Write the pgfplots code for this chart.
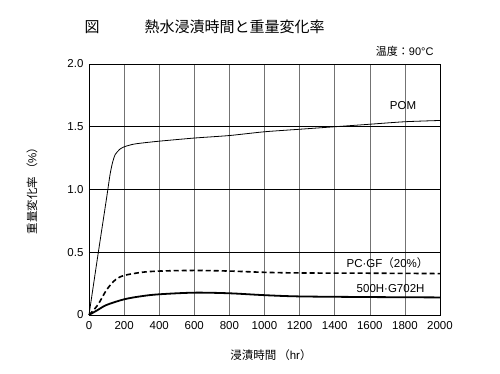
\documentclass[border=0pt]{standalone}
\usepackage{fontspec}
\setmainfont{Liberation Sans}
\newfontfamily\jp{Noto Sans CJK JP}
\usepackage{pgfplots}
\pgfplotsset{compat=1.18}
\begin{document}
\begin{tikzpicture}
\useasboundingbox (-89pt,-59pt) rectangle (411pt,315pt);
\begin{axis}[
  at={(0pt,0pt)}, anchor=origin,
  scale only axis, width=351pt, height=251pt,
  xmin=0, xmax=2000, ymin=0, ymax=2.0,
  xtick={0,200,...,2000},
  ytick={0,0.5,1.0,1.5,2.0},
  yticklabels={0,0.5,1.0,1.5,2.0},
  /pgf/number format/assume math mode=true,
  /pgf/number format/1000 sep={},
  tick label style={font=\fontsize{11.5}{12}\selectfont},
  major tick length=0pt,
  xticklabel style={yshift=-3pt},
  yticklabel style={xshift=-2pt},
  xmajorgrids, ymajorgrids,
  x grid style={black!55, line width=0.6pt},
  y grid style={black, line width=0.6pt},
  axis line style={black, line width=0.7pt},
  clip=false,
]
\addplot[black, line width=0.8pt, smooth, tension=0.4] coordinates {
(0,0) (50,0.47) (100,0.93) (120,1.12) (135,1.22) (150,1.28) (175,1.32) (200,1.34) (250,1.36) (300,1.37) (400,1.385) (600,1.41) (800,1.43) (1000,1.46) (1200,1.48) (1400,1.50) (1600,1.52) (1800,1.54) (2000,1.55)};
\addplot[black, line width=1.6pt, dash pattern=on 5pt off 3pt, smooth, tension=0.5] coordinates {
(0,0) (50,0.08) (100,0.2) (150,0.28) (200,0.315) (300,0.34) (400,0.35) (600,0.355) (800,0.35) (1000,0.34) (1200,0.335) (1600,0.333) (2000,0.33)};
\addplot[black, line width=1.8pt, smooth, tension=0.5] coordinates {
(0,0) (50,0.04) (100,0.08) (200,0.125) (300,0.15) (400,0.165) (600,0.178) (800,0.173) (1000,0.158) (1200,0.148) (1600,0.143) (2000,0.14)};
\end{axis}
\node[font=\fontsize{11.5}{12}\selectfont] at (314pt,209pt) {POM};
\node[anchor=east, font=\fontsize{11.5}{12}\selectfont] at (343pt,52pt) {PC·GF{\jp（}20\%{\jp）}};
\node[anchor=east, font=\fontsize{11.5}{12}\selectfont] at (339pt,26pt) {500H·G702H};
\node[font=\jp\fontsize{15}{16}\selectfont] at (3pt,288pt) {図};
\node[anchor=west, font=\jp\fontsize{15}{16}\selectfont] at (52pt,288pt) {熱水浸漬時間と重量変化率};
\node[anchor=east, font=\fontsize{11}{12}\selectfont] at (348pt,264pt) {{\jp 温度：}90°C};
\node[rotate=90, font=\fontsize{11.5}{12}\selectfont] at (-57pt,127pt) {{\jp 重量変化率}\,{\jp （}\%{\jp ）}};
\node[font=\fontsize{11.5}{12}\selectfont] at (182pt,-40pt) {{\jp 浸漬時間}\,{\jp （}hr{\jp ）}};
\end{tikzpicture}
\end{document}
